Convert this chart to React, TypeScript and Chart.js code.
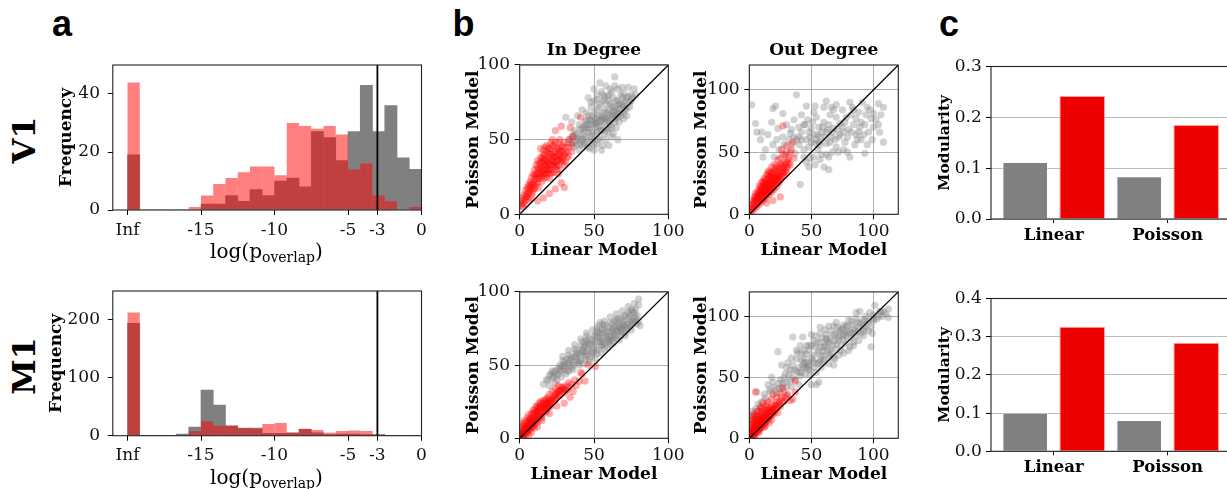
import React, { useEffect, useRef } from "react";
import { Chart, registerables } from "chart.js";
Chart.register(...registerables);

const SERIF = "'DejaVu Serif', serif";
const SANS = "'Liberation Sans', Arial, sans-serif";

// ---------- panel a : histograms ----------
const BIN_START = -20;
const BIN_WIDTH = 20 / 24;
const INF_POSITION = -20;
const THRESHOLD = -3;
const HIST_X_MIN = -21;
const HIST_X_MAX = 0;
const HIST_X_TICKS = [-20, -15, -10, -5, -3, 0];
const V1_HIST_Y_TICKS = [0, 20, 40];
const M1_HIST_Y_TICKS = [0, 100, 200];
const V1_HIST_Y_MAX = 50;
const M1_HIST_Y_MAX = 250;
const V1_HIST_GRAY = [19, 0, 0, 0, 0, 0, 2, 2, 5, 3, 7, 5, 10, 11, 8, 27, 25, 17, 27, 43, 27, 36, 18, 14];
const V1_HIST_RED = [44, 0, 0, 0, 0, 1, 5, 9, 11, 13, 15, 15, 12, 30, 29, 28, 29, 26, 14, 16, 5, 3, 0, 1];
const M1_HIST_GRAY = [194, 0, 0, 0, 3, 15, 79, 53, 17, 13, 13, 4, 4, 5, 11, 5, 2, 3, 3, 2, 2, 0, 0, 0];
const M1_HIST_RED = [213, 0, 0, 0, 0, 8, 25, 17, 17, 13, 12, 20, 22, 5, 12, 10, 5, 8, 9, 8, 2, 1, 0, 0];

// ---------- panel b : scatter ----------
const IN_AXIS_MAX = 100;
const OUT_AXIS_MAX = 120;
const SCATTER_TICKS = [0, 50, 100];

const V1_IN_GRAY: [number, number][] = [
  [64, 92], [69, 85], [73, 85], [77, 84], [61, 84], [58, 86], [55, 82], [57, 78], [60, 80], [63, 78], [66, 76], [70, 74],
  [72, 78], [68, 80], [52, 80], [50, 76], [54, 74], [58, 74], [62, 72], [65, 70], [68, 68], [71, 70], [74, 72], [48, 72],
  [52, 70], [56, 68], [60, 66], [64, 64], [67, 62], [70, 64], [45, 68], [49, 66], [53, 64], [57, 62], [61, 60], [65, 58],
  [44, 62], [47, 60], [51, 58], [55, 56], [59, 55], [63, 54], [40, 60], [43, 57], [46, 55], [50, 53], [54, 51], [58, 50],
  [62, 52], [37, 56], [41, 53], [44, 50], [48, 48], [52, 47], [56, 46], [35, 52], [38, 49], [42, 46], [46, 45], [50, 43],
  [55, 43], [33, 48], [36, 45], [40, 43], [31, 65], [35, 62], [39, 66], [42, 70], [46, 78], [50, 84], [54, 88], [64, 86],
  [66, 50], [60, 46], [72, 66], [75, 76], [47, 44], [38, 54],
  [34, 50], [36, 53], [39, 51], [41, 57], [43, 54], [45, 52], [47, 57], [49, 55], [51, 61], [53, 59], [55, 63], [57, 65],
  [59, 63], [61, 67], [63, 69], [65, 66], [67, 71], [69, 73], [71, 76], [73, 79], [75, 80], [70, 81], [66, 84], [62, 82],
  [59, 79], [56, 76], [53, 72], [50, 68], [48, 63], [46, 66], [44, 59], [42, 50], [40, 47], [38, 46], [49, 50], [52, 55],
  [55, 59], [58, 58], [60, 62], [62, 58], [64, 62], [66, 65], [68, 66], [70, 68], [72, 71], [74, 75], [76, 78], [78, 80],
  [57, 54], [53, 50], [50, 47], [60, 57], [63, 66], [66, 73], [60, 76], [56, 80], [52, 77], [48, 75], [45, 63], [43, 47],
  [42, 58], [46, 58], [50, 60], [54, 62], [58, 64], [62, 64], [66, 68], [70, 72], [47, 64], [51, 64], [55, 66], [59, 68],
  [63, 72], [67, 74], [45, 60], [49, 62], [53, 66], [57, 70], [61, 74], [65, 76], [69, 78], [56, 64], [52, 62], [60, 70],
  [64, 68], [48, 52], [44, 48], [40, 50], [36, 48], [54, 56],
];
const V1_IN_RED: [number, number][] = [
  [1, 6], [1, 9], [2, 11], [2, 7], [3, 13], [3, 9], [4, 16], [4, 10], [5, 12], [5, 18], [6, 14], [6, 20], [6, 9], [7, 16],
  [7, 22], [7, 11], [8, 18], [8, 25], [8, 13], [9, 20], [9, 27], [9, 15], [10, 23], [10, 30], [10, 17], [11, 25], [11, 19],
  [11, 33], [12, 28], [12, 21], [12, 36], [13, 30], [13, 24], [13, 18], [14, 32], [14, 26], [14, 38], [15, 35], [15, 28],
  [15, 22], [16, 30], [16, 40], [16, 24], [17, 33], [17, 27], [17, 37], [18, 30], [18, 42], [18, 25], [19, 35], [19, 28],
  [19, 32], [20, 38], [20, 30], [20, 44], [20, 24], [21, 33], [21, 40], [22, 36], [22, 28], [22, 46], [23, 38], [23, 32],
  [24, 42], [24, 35], [24, 48], [25, 39], [25, 30], [26, 44], [26, 36], [27, 40], [27, 50], [28, 38], [28, 45], [29, 42],
  [30, 48], [30, 40], [31, 45], [32, 42], [33, 50], [34, 58], [28, 59], [24, 56], [22, 50], [41, 65], [35, 47], [14, 44],
  [16, 43], [30, 18], [28, 21], [24, 17], [20, 14], [16, 11], [12, 9], [26, 27], [30, 33],
  [9, 17], [10, 21], [11, 27], [12, 31], [13, 27], [13, 34], [14, 29], [14, 35], [15, 25], [15, 31], [15, 38], [16, 27],
  [16, 33], [16, 37], [17, 29], [17, 35], [17, 40], [18, 27], [18, 33], [18, 36], [19, 30], [19, 39], [19, 44], [20, 34],
  [20, 41], [21, 30], [21, 36], [21, 43], [22, 33], [22, 39], [23, 35], [23, 41], [23, 46], [24, 33], [24, 39], [25, 36],
  [25, 44], [26, 33], [26, 40], [26, 48], [27, 37], [27, 43], [28, 35], [28, 42], [29, 38], [29, 46], [31, 41], [32, 38],
  [33, 45], [12, 24], [10, 26], [8, 21], [7, 19], [6, 17], [5, 14], [4, 12], [3, 7], [2, 5], [21, 27], [23, 28], [25, 32],
  [27, 30], [29, 36], [31, 35], [33, 39], [35, 42], [36, 52], [18, 46], [21, 48], [17, 45],
];
const V1_OUT_GRAY: [number, number][] = [
  [2, 88], [38, 96], [21, 87], [6, 66], [10, 66], [5, 73], [18, 74], [27, 62], [13, 52], [19, 56], [22, 60], [33, 65],
  [36, 76], [42, 80], [46, 87], [53, 87], [62, 91], [70, 88], [81, 90], [104, 89], [108, 86], [100, 81], [94, 80], [86, 77],
  [78, 78], [73, 73], [84, 72], [89, 70], [100, 70], [105, 66], [108, 58], [93, 49], [81, 46], [70, 54], [62, 57], [57, 62],
  [50, 69], [46, 60], [44, 52], [49, 45], [52, 46], [48, 38], [60, 38], [64, 36], [46, 42], [41, 24], [37, 49], [30, 50],
  [54, 78], [65, 80], [60, 74], [68, 69], [76, 66], [58, 66], [53, 57], [49, 62], [42, 66], [38, 60], [34, 56], [64, 46],
  [77, 58], [85, 56], [92, 64], [98, 77], [27, 81], [30, 72], [23, 69], [15, 64], [9, 60], [11, 46], [19, 85], [55, 52],
  [58, 48], [66, 62], [72, 62], [80, 68], [88, 82], [95, 86], [48, 54], [40, 56], [52, 64], [62, 66], [45, 72], [34, 68],
  [56, 70], [70, 78], [84, 84], [90, 74],
  [44, 72], [47, 76], [51, 74], [55, 64], [57, 56], [59, 70], [61, 62], [63, 68], [65, 58], [67, 66], [69, 60], [71, 68],
  [73, 64], [75, 70], [77, 74], [79, 62], [82, 66], [86, 64], [90, 60], [96, 66], [102, 76], [106, 80], [97, 84], [91, 90],
  [83, 86], [75, 84], [68, 84], [60, 86], [52, 82], [40, 70], [36, 62], [32, 60], [28, 56], [24, 52], [20, 46], [44, 46],
  [53, 40], [57, 44], [62, 48], [67, 50], [72, 50], [76, 52], [87, 60], [93, 72], [99, 60], [54, 60], [48, 66], [42, 60],
  [56, 58], [64, 72], [88, 66], [82, 80], [66, 86], [50, 58], [40, 62], [104, 72], [95, 56], [79, 50],
];
const V1_OUT_RED: [number, number][] = [
  [0, 1], [1, 3], [1, 6], [2, 2], [2, 8], [3, 5], [3, 11], [4, 4], [4, 9], [4, 14], [5, 7], [5, 12], [5, 17], [6, 6],
  [6, 10], [6, 15], [7, 9], [7, 13], [7, 19], [8, 8], [8, 12], [8, 17], [8, 23], [9, 11], [9, 15], [9, 20], [10, 10],
  [10, 14], [10, 19], [10, 26], [11, 13], [11, 17], [11, 23], [12, 12], [12, 16], [12, 21], [12, 29], [13, 15], [13, 19],
  [13, 25], [14, 14], [14, 18], [14, 23], [14, 32], [15, 17], [15, 21], [15, 28], [16, 16], [16, 20], [16, 26], [16, 35],
  [17, 19], [17, 24], [17, 30], [18, 18], [18, 22], [18, 28], [18, 38], [19, 21], [19, 26], [19, 33], [20, 20], [20, 25],
  [20, 30], [20, 40], [21, 24], [21, 29], [22, 22], [22, 27], [22, 35], [23, 26], [23, 31], [23, 44], [24, 25], [24, 30],
  [24, 38], [25, 28], [25, 34], [26, 30], [26, 40], [27, 33], [27, 48], [28, 31], [28, 37], [29, 35], [30, 42], [30, 33],
  [31, 38], [32, 46], [33, 40], [34, 52], [35, 58], [36, 45], [27, 71], [19, 11], [25, 14], [14, 9],
  [6, 11], [7, 14], [8, 15], [9, 13], [9, 18], [10, 16], [10, 21], [11, 19], [11, 26], [12, 18], [12, 23], [13, 17],
  [13, 22], [13, 28], [14, 20], [14, 25], [15, 19], [15, 24], [15, 31], [16, 22], [16, 29], [17, 21], [17, 27], [17, 33],
  [18, 25], [18, 31], [19, 24], [19, 29], [20, 27], [20, 35], [21, 26], [21, 32], [22, 30], [22, 39], [23, 28], [23, 35],
  [24, 33], [25, 30], [25, 40], [26, 35], [27, 38], [28, 34], [29, 40], [30, 37], [31, 44], [32, 41], [29, 48], [25, 45],
  [21, 37], [18, 34], [15, 34], [12, 26], [9, 22], [7, 17], [5, 14], [4, 11], [3, 8], [2, 5], [28, 42], [33, 50], [26, 52],
  [30, 55],
];
const M1_IN_GRAY: [number, number][] = [
  [80, 95], [80, 91], [81, 77], [76, 87], [73, 82], [70, 83], [65, 81], [61, 79], [56, 78], [52, 75], [50, 70], [45, 67],
  [41, 63], [37, 61], [33, 57], [29, 53], [27, 50], [23, 45], [20, 43], [16, 37], [19, 40], [25, 40], [31, 44], [35, 48],
  [41, 53], [45, 59], [50, 62], [54, 66], [59, 68], [63, 71], [68, 75], [72, 78], [75, 80], [45, 70], [54, 79], [44, 64],
  [38, 58], [34, 53], [28, 49], [54, 72], [60, 73], [64, 76], [69, 78], [71, 72], [65, 68], [61, 64], [57, 61], [52, 58],
  [47, 54], [51, 66], [42, 61], [37, 56], [32, 51], [61, 69], [74, 85], [66, 79], [56, 72], [46, 61], [45, 57], [58, 65],
  [62, 67], [67, 72], [70, 76], [48, 64], [43, 59], [39, 54], [36, 50], [30, 47], [26, 44], [22, 41], [53, 69], [57, 75],
  [63, 74], [68, 70], [72, 74], [77, 82], [78, 88], [76, 78], [55, 63], [49, 58], [40, 50], [33, 46],
  [18, 40], [21, 44], [24, 46], [27, 47], [30, 50], [32, 54], [35, 55], [38, 60], [40, 58], [43, 62], [46, 65], [49, 67],
  [51, 70], [53, 72], [55, 74], [57, 77], [59, 76], [62, 78], [64, 80], [66, 82], [68, 82], [71, 84], [73, 86], [75, 88],
  [77, 86], [79, 84], [80, 80], [78, 80], [74, 78], [70, 80], [67, 76], [65, 73], [63, 69], [59, 70], [56, 66], [54, 63],
  [50, 60], [48, 59], [44, 56], [41, 57], [39, 52], [36, 52], [34, 50], [31, 49], [28, 46], [25, 43], [23, 42], [47, 68],
  [52, 73], [58, 72], [62, 75], [66, 74], [69, 74], [74, 76], [60, 66], [55, 68], [44, 66], [42, 66],
  [20, 36], [24, 38], [28, 42], [32, 46], [36, 47], [40, 52], [44, 54], [48, 56], [52, 60], [56, 64], [60, 67], [64, 70],
  [68, 73], [72, 76], [76, 80], [78, 83], [74, 83], [70, 78], [66, 77], [62, 73], [58, 70], [54, 68], [50, 65], [46, 63],
  [42, 59], [38, 56], [34, 55], [30, 52], [26, 48], [22, 46], [29, 56], [33, 60], [37, 64], [41, 68], [45, 72], [49, 74],
  [53, 77], [57, 80], [61, 83], [65, 85], [69, 87], [73, 90], [77, 92], [63, 65], [67, 67], [71, 70], [75, 74], [79, 78],
  [59, 62], [55, 58], [51, 55], [47, 52], [43, 51],
];
const M1_IN_RED: [number, number][] = [
  [0, 1], [0, 3], [1, 2], [1, 5], [1, 8], [2, 1], [2, 4], [2, 7], [2, 10], [3, 3], [3, 6], [3, 9], [3, 12], [4, 2],
  [4, 5], [4, 8], [4, 11], [5, 4], [5, 7], [5, 10], [5, 14], [6, 5], [6, 9], [6, 12], [6, 16], [7, 6], [7, 10], [7, 14],
  [8, 8], [8, 12], [8, 17], [9, 9], [9, 13], [9, 19], [10, 10], [10, 14], [10, 20], [11, 12], [11, 16], [12, 13], [12, 18],
  [12, 22], [13, 14], [13, 19], [14, 15], [14, 20], [14, 25], [15, 16], [15, 22], [16, 18], [16, 24], [17, 19], [17, 26],
  [18, 20], [18, 27], [19, 21], [19, 28], [20, 22], [20, 30], [21, 24], [22, 25], [22, 32], [23, 27], [24, 28], [24, 34],
  [25, 29], [26, 30], [26, 36], [27, 32], [28, 33], [29, 35], [30, 34], [31, 36], [33, 38], [32, 33], [35, 37], [37, 40],
  [38, 36], [40, 39], [42, 44], [44, 39], [46, 50], [51, 49], [41, 45], [34, 28], [30, 24], [10, 7], [15, 12], [20, 17],
  [25, 22], [36, 32], [6, 2], [3, 0], [8, 4], [12, 8],
  [1, 3], [2, 3], [3, 4], [3, 5], [4, 6], [4, 7], [5, 6], [5, 8], [6, 7], [6, 8], [7, 8], [7, 12], [8, 10], [8, 11],
  [9, 11], [9, 15], [10, 12], [10, 17], [11, 13], [11, 18], [12, 15], [12, 20], [13, 16], [13, 21], [14, 17], [14, 22],
  [15, 18], [15, 24], [16, 20], [16, 26], [17, 21], [17, 23], [18, 22], [18, 24], [19, 23], [19, 25], [20, 24], [20, 26],
  [21, 26], [22, 27], [23, 29], [24, 30], [25, 31], [26, 32], [27, 33], [28, 35], [29, 33], [31, 33], [33, 35], [30, 31],
  [27, 29], [24, 26], [21, 22], [18, 18], [15, 14], [12, 11], [9, 8], [6, 6], [4, 4], [2, 2], [11, 22], [13, 24], [9, 17],
  [7, 13],
];
const M1_OUT_GRAY: [number, number][] = [
  [112, 106], [101, 109], [105, 104], [112, 99], [98, 91], [98, 75], [89, 104], [86, 103], [80, 97], [76, 93], [70, 95],
  [64, 92], [57, 91], [50, 85], [43, 83], [35, 83], [23, 71], [26, 60], [18, 50], [15, 44], [6, 38], [2, 22], [1, 18],
  [41, 76], [46, 69], [51, 64], [47, 57], [42, 54], [35, 50], [30, 46], [26, 42], [22, 37], [54, 44], [68, 60], [50, 44],
  [56, 46], [60, 71], [65, 73], [70, 77], [76, 81], [81, 87], [85, 88], [57, 79], [53, 75], [62, 81], [68, 85], [73, 88],
  [78, 84], [74, 72], [69, 65], [64, 61], [58, 58], [54, 54], [49, 52], [43, 60], [38, 65], [33, 56], [29, 53], [25, 48],
  [19, 46], [40, 44], [9, 25], [5, 17], [81, 75], [88, 91], [93, 97], [65, 68], [58, 67], [46, 62], [90, 86], [95, 94],
  [84, 79], [72, 80], [61, 76], [55, 70], [48, 72], [39, 70], [31, 62], [28, 38], [34, 42], [60, 64], [66, 70], [52, 80],
  [44, 66], [79, 92], [107, 100], [100, 96],
  [62, 85], [66, 88], [71, 91], [75, 89], [79, 88], [83, 93], [87, 95], [91, 96], [94, 100], [97, 103], [100, 101],
  [103, 98], [106, 104], [110, 102], [99, 86], [92, 88], [86, 84], [82, 82], [78, 78], [74, 76], [70, 73], [67, 76],
  [63, 72], [60, 68], [57, 64], [55, 61], [52, 58], [49, 56], [45, 53], [41, 51], [37, 48], [33, 47], [30, 42], [27, 45],
  [24, 41], [21, 40], [17, 38], [13, 33], [10, 30], [7, 28], [5, 24], [3, 20], [44, 72], [48, 76], [53, 84], [57, 86],
  [61, 89], [68, 92], [72, 84], [76, 86], [84, 90], [89, 94], [93, 90], [58, 75], [63, 79], [50, 66], [46, 58], [38, 55],
  [35, 60], [42, 64],
  [40, 58], [44, 62], [48, 62], [52, 68], [56, 72], [60, 75], [64, 78], [68, 80], [72, 82], [76, 84], [80, 86], [84, 86],
  [88, 88], [92, 92], [96, 96], [100, 98], [104, 100], [108, 104], [96, 88], [92, 84], [88, 80], [84, 76], [80, 72],
  [76, 70], [72, 68], [68, 66], [64, 66], [60, 62], [56, 62], [52, 62], [48, 60], [44, 58], [40, 54], [36, 56], [32, 52],
  [28, 50], [24, 45], [20, 42], [16, 40], [12, 36], [70, 86], [74, 90], [78, 92], [82, 96], [86, 98], [66, 82], [62, 82],
  [58, 82], [54, 78], [50, 76], [46, 76], [42, 70], [38, 72], [34, 66], [30, 58],
];
const M1_OUT_RED: [number, number][] = [
  [0, 1], [0, 3], [1, 2], [1, 5], [1, 8], [2, 1], [2, 4], [2, 7], [2, 11], [3, 3], [3, 6], [3, 9], [3, 13], [4, 2],
  [4, 5], [4, 8], [4, 12], [5, 4], [5, 7], [5, 10], [5, 15], [6, 6], [6, 9], [6, 13], [6, 17], [7, 5], [7, 8], [7, 11],
  [7, 15], [8, 7], [8, 10], [8, 14], [8, 19], [9, 8], [9, 12], [9, 16], [10, 9], [10, 13], [10, 18], [10, 22], [11, 11],
  [11, 15], [11, 20], [12, 12], [12, 17], [12, 24], [13, 13], [13, 18], [14, 14], [14, 20], [14, 26], [15, 16], [15, 21],
  [16, 17], [16, 23], [17, 18], [17, 25], [18, 19], [18, 22], [19, 21], [19, 27], [20, 20], [20, 24], [21, 23], [22, 25],
  [23, 27], [24, 30], [25, 26], [26, 33], [27, 41], [28, 30], [30, 35], [33, 31], [37, 38], [37, 47], [5, 38], [11, 29],
  [19, 36], [25, 37], [35, 32], [3, 18], [2, 15], [6, 22], [9, 26], [15, 30], [22, 34], [13, 10], [18, 15], [23, 21],
  [4, 1], [8, 5], [12, 9], [16, 13],
  [1, 1], [1, 4], [2, 3], [2, 6], [3, 4], [3, 7], [4, 4], [4, 6], [4, 10], [5, 5], [5, 9], [5, 12], [6, 8], [6, 11],
  [7, 7], [7, 10], [7, 13], [8, 9], [8, 12], [8, 16], [9, 10], [9, 14], [10, 11], [10, 15], [10, 20], [11, 13], [11, 17],
  [12, 14], [12, 19], [13, 15], [13, 21], [14, 16], [14, 23], [15, 18], [15, 24], [16, 19], [17, 21], [18, 23], [19, 24],
  [20, 26], [21, 27], [22, 29], [24, 28], [26, 31], [29, 33], [31, 36], [3, 15], [4, 19], [7, 22], [10, 25], [14, 28],
  [18, 32], [2, 12], [6, 19],
];

// ---------- panel c : modularity bars ----------
const BAR_CATEGORIES = ["Linear", "Poisson"];
const V1_MOD_GRAY = [0.112, 0.084];
const V1_MOD_RED = [0.242, 0.185];
const M1_MOD_GRAY = [0.101, 0.082];
const M1_MOD_RED = [0.326, 0.284];
const V1_MOD_TICKS = [0, 0.1, 0.2, 0.3];
const M1_MOD_TICKS = [0, 0.1, 0.2, 0.3, 0.4];

// ---------- helpers ----------
type Geo = {
  L: number; T: number; R: number; B: number;
  yW: number; xH: number; titleH: number;
  padT: number; padR: number; padB: number; padL: number;
};

function frame(g: Geo) {
  const left = Math.floor(g.L - g.yW - g.padL);
  const top = Math.floor(g.T - g.titleH - g.padT);
  const width = Math.ceil(g.R + g.padR - left);
  const height = Math.ceil(g.B + g.xH + g.padB - top);
  return {
    left, top, width, height,
    padding: {
      left: g.L - g.yW - left,
      top: g.T - g.titleH - top,
      right: width - (g.R - left),
      bottom: height - g.xH - (g.B - top),
    },
  };
}

const boxPlugin = {
  id: "frameBox",
  afterDatasetsDraw(chart: any) {
    const { ctx, chartArea: a } = chart;
    ctx.save();
    ctx.strokeStyle = "#222";
    ctx.lineWidth = 1.1;
    ctx.strokeRect(a.left, a.top, a.right - a.left, a.bottom - a.top);
    ctx.restore();
  },
};

const tickFont = { family: SERIF, size: 17 };
const boldFont = (size: number) => ({ family: SERIF, size, weight: "bold" as const, lineHeight: 1.2 });

function setTicks(values: number[]) {
  return (s: any) => {
    s.ticks = values.map((v) => ({ value: v }));
  };
}

function ChartCanvas({ geo, make }: { geo: Geo; make: (padding: any) => any }) {
  const ref = useRef<HTMLCanvasElement | null>(null);
  const f = frame(geo);
  useEffect(() => {
    if (!ref.current) return;
    const chart = new Chart(ref.current, make(f.padding));
    return () => chart.destroy();
  }, []);
  return (
    <canvas
      ref={ref}
      width={f.width}
      height={f.height}
      style={{ position: "absolute", left: f.left, top: f.top, width: f.width, height: f.height }}
    />
  );
}

function histConfig(gray: number[], red: number[], yMax: number, yTicks: number[], geo: Geo) {
  return (padding: any) => {
    const center = (k: number) => BIN_START + (k + 0.5) * BIN_WIDTH;
    return {
      type: "bar",
      data: {
        datasets: [
          {
            type: "line",
            data: [{ x: THRESHOLD, y: 0 }, { x: THRESHOLD, y: yMax }],
            borderColor: "#000",
            borderWidth: 1.8,
            pointRadius: 0,
            order: 0,
          },
          {
            type: "bar",
            data: red.map((v, k) => ({ x: center(k), y: v })),
            backgroundColor: "rgba(255,0,0,0.5)",
            borderWidth: 0,
            grouped: false,
            barPercentage: 1,
            categoryPercentage: 1,
            inflateAmount: 0,
            order: 1,
          },
          {
            type: "bar",
            data: gray.map((v, k) => ({ x: center(k), y: v })),
            backgroundColor: "#808080",
            borderWidth: 0,
            grouped: false,
            barPercentage: 1,
            categoryPercentage: 1,
            order: 2,
          },
        ],
      },
      options: {
        animation: false,
        responsive: false,
        devicePixelRatio: 1,
        layout: { padding, autoPadding: false },
        plugins: { legend: { display: false }, tooltip: { enabled: false } },
        scales: {
          x: {
            type: "linear",
            offset: false,
            min: HIST_X_MIN,
            max: HIST_X_MAX,
            afterBuildTicks: setTicks(HIST_X_TICKS),
            afterFit: (s: any) => { s.height = geo.xH; },
            ticks: {
              autoSkip: false,
              maxRotation: 0,
              font: tickFont,
              color: "#111",
              padding: 5,
              callback: (v: number) => (v === INF_POSITION ? "Inf" : String(v)),
            },
            grid: { offset: false, drawOnChartArea: false, drawTicks: true, tickLength: 5, tickColor: "#000", tickWidth: 1 },
            border: { display: false },
          },
          y: {
            type: "linear",
            min: 0,
            max: yMax,
            afterBuildTicks: setTicks(yTicks),
            afterFit: (s: any) => { s.width = geo.yW; },
            ticks: { font: tickFont, color: "#111", padding: 7.8, autoSkip: false },
            grid: { drawOnChartArea: false, drawTicks: true, tickLength: 5, tickColor: "#000", tickWidth: 1 },
            border: { display: false },
            title: { display: true, text: "Frequency", font: boldFont(17), color: "#000", padding: { top: 0, bottom: 0 } },
          },
        },
      },
      plugins: [boxPlugin],
    };
  };
}

function scatterConfig(
  gray: [number, number][],
  red: [number, number][],
  axisMax: number,
  title: string | null,
  geo: Geo
) {
  return (padding: any) => {
    const axis = (isX: boolean) => ({
      type: "linear",
      min: 0,
      max: axisMax,
      afterBuildTicks: setTicks(SCATTER_TICKS),
      afterFit: (s: any) => {
        if (isX) s.height = geo.xH;
        else s.width = geo.yW;
      },
      ticks: { font: tickFont, color: "#111", padding: isX ? 2.5 : 4.7, autoSkip: false, maxRotation: 0 },
      grid: { color: "#b0b0b0", lineWidth: 1, drawTicks: true, tickLength: 5, tickColor: "#000", tickWidth: 1 },
      border: { display: false },
      title: {
        display: true,
        text: isX ? "Linear Model" : "Poisson Model",
        font: boldFont(17),
        color: "#000",
        padding: { top: 0, bottom: 0 },
      },
    });
    return {
      type: "scatter",
      data: {
        datasets: [
          {
            data: [{ x: 0, y: 0 }, { x: axisMax, y: axisMax }],
            showLine: true,
            borderColor: "#000",
            borderWidth: 1.3,
            pointRadius: 0,
            order: 0,
          },
          {
            data: red.map(([x, y]) => ({ x, y })),
            backgroundColor: "rgba(255,0,0,0.33)",
            borderWidth: 0,
            pointRadius: 3.6,
            order: 1,
          },
          {
            data: gray.map(([x, y]) => ({ x, y })),
            backgroundColor: "rgba(128,128,128,0.36)",
            borderWidth: 0,
            pointRadius: 3.6,
            order: 2,
          },
        ],
      },
      options: {
        animation: false,
        responsive: false,
        devicePixelRatio: 1,
        layout: { padding, autoPadding: false },
        plugins: {
          legend: { display: false },
          tooltip: { enabled: false },
          title: title
            ? {
                display: true,
                fullSize: false,
                text: title,
                font: boldFont(17),
                color: "#000",
                padding: { top: 0, bottom: 3.8 },
              }
            : { display: false },
        },
        scales: { x: axis(true), y: axis(false) },
      },
      plugins: [boxPlugin],
    };
  };
}

function barConfig(gray: number[], red: number[], yTicks: number[], geo: Geo) {
  return (padding: any) => ({
    type: "bar",
    data: {
      datasets: [
        {
          data: gray.map((v, i) => ({ x: i, y: v })),
          backgroundColor: "#808080",
          borderColor: "rgba(255,255,255,0.35)",
          borderWidth: 1,
          barPercentage: 0.8,
          categoryPercentage: 1,
        },
        {
          data: red.map((v, i) => ({ x: i, y: v })),
          backgroundColor: "#ee0000",
          borderColor: "rgba(255,140,140,0.8)",
          borderWidth: 1,
          barPercentage: 0.8,
          categoryPercentage: 1,
        },
      ],
    },
    options: {
      animation: false,
      responsive: false,
      devicePixelRatio: 1,
      layout: { padding, autoPadding: false },
      plugins: { legend: { display: false }, tooltip: { enabled: false } },
      scales: {
        x: {
          type: "linear",
          offset: false,
          min: -0.55,
          max: 1.55,
          afterBuildTicks: setTicks([0, 1]),
          afterFit: (s: any) => { s.height = geo.xH; },
          ticks: {
            autoSkip: false,
            maxRotation: 0,
            font: boldFont(16.5),
            color: "#000",
            padding: 2.4,
            callback: (v: number) => BAR_CATEGORIES[v] ?? "",
          },
          grid: { offset: false, drawOnChartArea: false, drawTicks: true, tickLength: 4, tickColor: "#000", tickWidth: 1 },
          border: { display: false },
        },
        y: {
          type: "linear",
          min: 0,
          max: yTicks[yTicks.length - 1],
          afterBuildTicks: setTicks(yTicks),
          afterFit: (s: any) => { s.width = geo.yW; },
          ticks: { font: tickFont, color: "#111", padding: 4.3, autoSkip: false, callback: (v: number) => v.toFixed(1) },
          grid: { color: "#bdbdbd", lineWidth: 1, drawTicks: true, tickLength: 5, tickColor: "#000", tickWidth: 1 },
          border: { display: false },
          title: { display: true, text: "Modularity", font: boldFont(15.5), color: "#000", padding: { top: 0, bottom: 0 } },
        },
      },
    },
    plugins: [boxPlugin],
  });
}

// ---------- geometry (page pixels) ----------
const G_HIST_V1: Geo = { L: 112.8, T: 59.3, R: 421.5, B: 210, yW: 56.3, xH: 30, titleH: 0, padT: 12, padR: 12, padB: 2, padL: 0 };
const G_HIST_M1: Geo = { L: 112.8, T: 285, R: 421.5, B: 435.7, yW: 66.5, xH: 30, titleH: 0, padT: 12, padR: 12, padB: 2, padL: 0 };
const G_S1: Geo = { L: 519.7, T: 65, R: 668.3, B: 214.3, yW: 55.9, xH: 46.9, titleH: 24.2, padT: 0, padR: 20, padB: 2, padL: 0 };
const G_S2: Geo = { L: 749.3, T: 65, R: 898.3, B: 214.3, yW: 57.5, xH: 46.9, titleH: 24.2, padT: 0, padR: 20, padB: 2, padL: 0 };
const G_S3: Geo = { L: 519.7, T: 289.3, R: 668.3, B: 438.3, yW: 55.9, xH: 46.9, titleH: 0, padT: 12, padR: 20, padB: 1, padL: 0 };
const G_S4: Geo = { L: 749.3, T: 289.3, R: 898.3, B: 438.3, yW: 57.5, xH: 46.9, titleH: 0, padT: 12, padR: 20, padB: 1, padL: 0 };
const G_BAR_V1: Geo = { L: 991, T: 64, R: 1230.4, B: 219, yW: 55.3, xH: 30, titleH: 0, padT: 12, padR: 2, padB: 2, padL: 0 };
const G_BAR_M1: Geo = { L: 991, T: 296.7, R: 1230.4, B: 451.3, yW: 55.3, xH: 30, titleH: 0, padT: 12, padR: 2, padB: 2, padL: 0 };

function PanelLetter({ text, left }: { text: string; left: number }) {
  return (
    <div style={{ position: "absolute", left, top: 5.5, font: `bold 36px ${SANS}`, lineHeight: "36px", color: "#000" }}>
      {text}
    </div>
  );
}

function RowLabel({ text, cy }: { text: string; cy: number }) {
  return (
    <div
      style={{
        position: "absolute",
        left: 25 - 50,
        top: cy - 20,
        width: 100,
        height: 40,
        lineHeight: "40px",
        textAlign: "center",
        font: `bold 32px ${SERIF}`,
        transform: "rotate(-90deg)",
        color: "#000",
      }}
    >
      {text}
    </div>
  );
}

function LogLabel({ baseline }: { baseline: number }) {
  return (
    <div
      style={{
        position: "absolute",
        left: 266.5 - 100,
        top: baseline - 19,
        width: 200,
        height: 24,
        lineHeight: "24px",
        textAlign: "center",
        fontFamily: SERIF,
        fontSize: 20,
        color: "#000",
        whiteSpace: "nowrap",
      }}
    >
      log(p<sub style={{ fontSize: 14, verticalAlign: "-4px", lineHeight: 0 }}>overlap</sub>)
    </div>
  );
}

export default function App() {
  return (
    <div
      style={{
        position: "fixed",
        left: 0,
        top: 0,
        width: 1227,
        height: 489,
        overflow: "hidden",
        background: "#fff",
      }}
    >
      <PanelLetter text="a" left={52} />
      <PanelLetter text="b" left={452.5} />
      <PanelLetter text="c" left={939} />
      <RowLabel text="V1" cy={140} />
      <RowLabel text="M1" cy={366} />

      <ChartCanvas geo={G_HIST_V1} make={histConfig(V1_HIST_GRAY, V1_HIST_RED, V1_HIST_Y_MAX, V1_HIST_Y_TICKS, G_HIST_V1)} />
      <ChartCanvas geo={G_HIST_M1} make={histConfig(M1_HIST_GRAY, M1_HIST_RED, M1_HIST_Y_MAX, M1_HIST_Y_TICKS, G_HIST_M1)} />
      <LogLabel baseline={258} />
      <LogLabel baseline={484} />

      <ChartCanvas geo={G_S1} make={scatterConfig(V1_IN_GRAY, V1_IN_RED, IN_AXIS_MAX, "In Degree", G_S1)} />
      <ChartCanvas geo={G_S2} make={scatterConfig(V1_OUT_GRAY, V1_OUT_RED, OUT_AXIS_MAX, "Out Degree", G_S2)} />
      <ChartCanvas geo={G_S3} make={scatterConfig(M1_IN_GRAY, M1_IN_RED, IN_AXIS_MAX, null, G_S3)} />
      <ChartCanvas geo={G_S4} make={scatterConfig(M1_OUT_GRAY, M1_OUT_RED, OUT_AXIS_MAX, null, G_S4)} />

      <ChartCanvas geo={G_BAR_V1} make={barConfig(V1_MOD_GRAY, V1_MOD_RED, V1_MOD_TICKS, G_BAR_V1)} />
      <ChartCanvas geo={G_BAR_M1} make={barConfig(M1_MOD_GRAY, M1_MOD_RED, M1_MOD_TICKS, G_BAR_M1)} />
    </div>
  );
}
